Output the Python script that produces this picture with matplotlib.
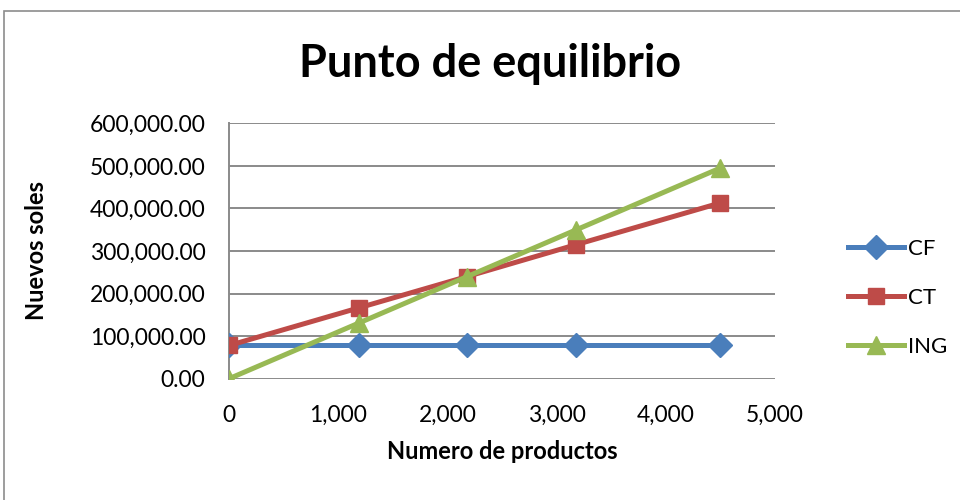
import matplotlib
matplotlib.use('Agg')
import matplotlib.pyplot as plt
from matplotlib.patches import Rectangle
from matplotlib.ticker import FuncFormatter

# datos del punto de equilibrio
productos = [0, 1190, 2180, 3180, 4500]
cf = [78000, 78000, 78000, 78000, 78000]
ct = [78000, 166500, 240000, 315000, 413000]
ing = [0, 130900, 239800, 349800, 495000]

plt.rcParams['font.family'] = ['Lato', 'DejaVu Sans']

fig = plt.figure(figsize=(9.6, 5), dpi=100)
ax = fig.add_axes([229 / 960, 1 - 378.7 / 500, (775 - 229) / 960, (378.7 - 123.3) / 500])

# marco exterior del grafico
fig.patches.append(Rectangle((4 / 960, -0.1), 1.2, 1.1 - 11 / 500, transform=fig.transFigure,
                             fill=False, edgecolor='#8c8c8c', linewidth=1.2))

ax.plot(productos, cf, color='#4A7EBB', lw=3.6, marker='D', ms=12, label='CF', zorder=3)
ax.plot(productos, ct, color='#BE4B48', lw=3.6, marker='s', ms=12, label='CT', zorder=4)
ax.plot(productos, ing, color='#98B954', lw=3.6, marker='^', ms=13, label='ING', zorder=5)

ax.set_xlim(0, 5000)
ax.set_ylim(0, 600000)
ax.set_xticks(range(0, 5001, 1000))
ax.set_yticks(range(0, 600001, 100000))
ax.xaxis.set_major_formatter(FuncFormatter(lambda v, p: f'{v:,.0f}'))
ax.yaxis.set_major_formatter(FuncFormatter(lambda v, p: f'{v:,.2f}'))
ax.grid(axis='y', color='#8a8a8a', lw=1.4)
ax.set_axisbelow(True)
for s in ['top', 'right', 'bottom']:
    ax.spines[s].set_visible(False)
ax.spines['left'].set_color('#8a8a8a')
ax.spines['left'].set_linewidth(1.4)
ax.tick_params(axis='both', labelsize=16.5, length=0)
ax.tick_params(axis='y', pad=17)
ax.tick_params(axis='x', pad=19)

ax.set_xlabel('Numero de productos', fontsize=17, fontweight='bold', labelpad=10)
ax.set_ylabel('Nuevos soles', fontsize=17, fontweight='bold', labelpad=30)
fig.text(0.51, 1 - 64 / 500, 'Punto de equilibrio', ha='center', va='center',
         fontsize=32.5, fontweight='bold')

ax.legend(loc='center left', bbox_to_anchor=(828 / 960, 1 - 298 / 500), bbox_transform=fig.transFigure,
          frameon=False, fontsize=16, handlelength=2.5, handletextpad=0.2, labelspacing=1.3)

fig.savefig('out.png', dpi=100)
